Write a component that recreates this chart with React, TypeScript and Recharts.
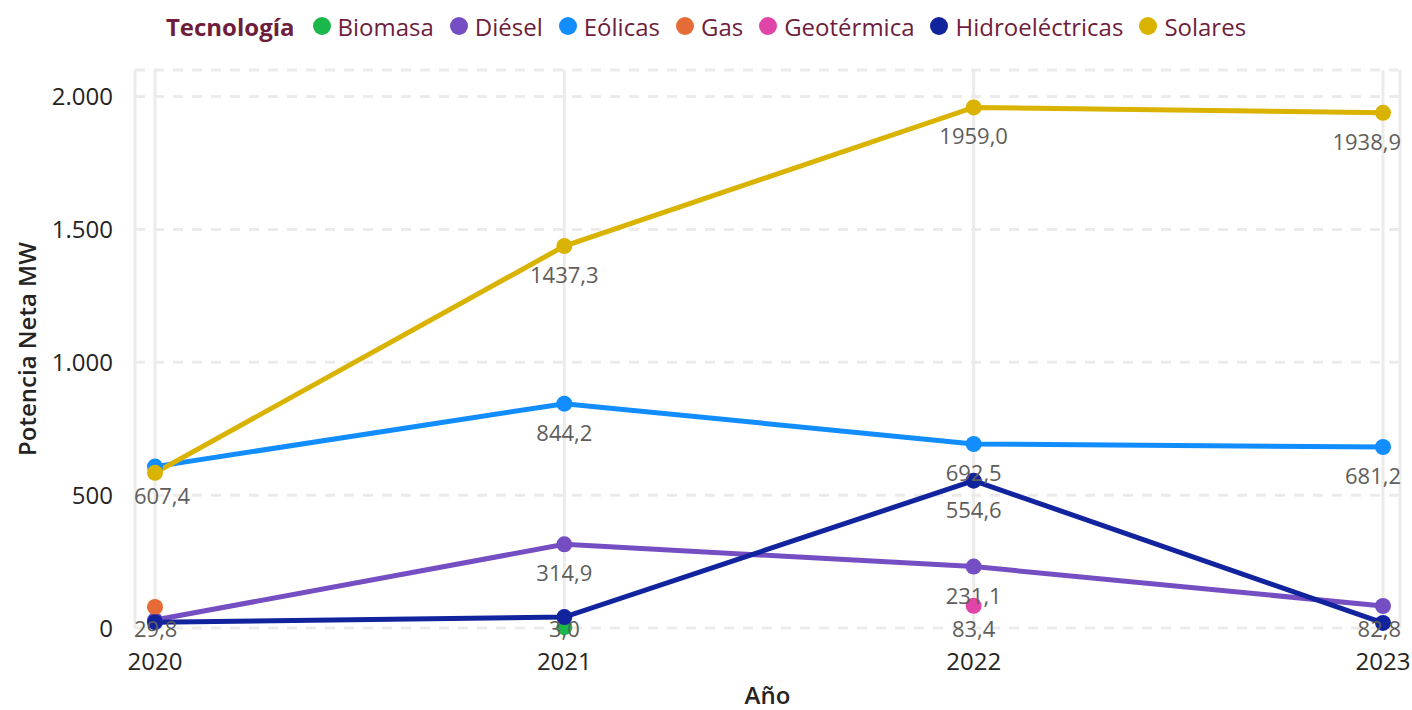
import { LineChart, Line, XAxis, YAxis, CartesianGrid, Legend, Label, LabelList } from 'recharts';

const years = ['2020', '2021', '2022', '2023'];
const biomasa = [null, 3.0, null, null];
const diesel = [29.8, 314.9, 231.1, 82.8];
const eolicas = [607.4, 844.2, 692.5, 681.2];
const gas = [79, null, null, null];
const geotermica = [null, null, 83.4, null];
const hidro = [22, 41, 554.6, 19];
const solares = [584, 1437.3, 1959.0, 1938.9];
const yTicks = [0, 500, 1000, 1500, 2000];

// which data labels Power BI kept visible (the rest overlap)
const showBiomasa = [false, true, false, false];
const showDiesel = [true, true, true, true];
const showEolicas = [true, true, true, true];
const showGas = [false, false, false, false];
const showGeotermica = [false, false, true, false];
const showHidro = [false, false, true, false];
const showSolares = [false, true, true, true];

const series = [
  { key: 'Biomasa', values: biomasa, show: showBiomasa, color: '#1AB84A' },
  { key: 'Diésel', values: diesel, show: showDiesel, color: '#744EC2' },
  { key: 'Eólicas', values: eolicas, show: showEolicas, color: '#118DFF' },
  { key: 'Gas', values: gas, show: showGas, color: '#E66C37' },
  { key: 'Geotérmica', values: geotermica, show: showGeotermica, color: '#E044A7' },
  { key: 'Hidroeléctricas', values: hidro, show: showHidro, color: '#12239E' },
  { key: 'Solares', values: solares, show: showSolares, color: '#D9B300' },
];

const data = years.map((year, i) => {
  const row: Record<string, any> = { year };
  series.forEach((s) => { row[s.key] = s.values[i]; });
  return row;
});

const W = 1412;
const H = 710;
const legendH = 52;
// recharts adds the legend height on top of margin.top
const margin = { top: 70 - legendH, right: 12, bottom: 0, left: 0 };
const xAxisHeight = 82;
const plotBottom = H - xAxisHeight;
const FONT = '"Open Sans", "Noto Sans", sans-serif';

const fmtTick = (v: number) => (v >= 1000 ? `${Math.floor(v / 1000)}.${String(v % 1000).padStart(3, '0')}` : String(v));
const fmtVal = (v: number) => v.toFixed(1).replace('.', ',');

function makeLabel(show: boolean[]) {
  return (props: any) => {
    const { value, index } = props;
    if (value == null || !show[index]) return null;
    const vb = props.viewBox || {};
    const x = props.x ?? vb.x;
    const y = props.y ?? vb.y;
    const cy = Math.min(y + 28, plotBottom);
    let anchor: 'start' | 'middle' | 'end' = 'middle';
    let tx = x;
    if (index === 0) { anchor = 'start'; tx = x - 21; }
    if (index === years.length - 1) { anchor = 'end'; tx = x + 18; }
    return (
      <text x={tx} y={cy} textAnchor={anchor} dominantBaseline="central" fill="#605E5C" fontSize={22} fontFamily={FONT}>
        {fmtVal(value)}
      </text>
    );
  };
}

function LegendContent() {
  return (
    <div style={{ display: 'flex', justifyContent: 'center', alignItems: 'center', fontFamily: FONT, fontSize: 24, color: '#6E1E3C', height: legendH }}>
      <span style={{ fontWeight: 700, marginRight: 2 }}>Tecnología</span>
      {series.map((s) => (
        <span key={s.key} style={{ display: 'flex', alignItems: 'center', marginLeft: 16 }}>
          <span style={{ width: 18, height: 18, borderRadius: 9, background: s.color, marginRight: 7 }} />
          {s.key}
        </span>
      ))}
    </div>
  );
}

export default function App() {
  return (
    <div style={{ position: 'absolute', left: 0, top: 0, background: '#fff' }}>
      <LineChart width={W} height={H} data={data} margin={margin}>
        <CartesianGrid horizontal={false} stroke="#EDEBE9" strokeWidth={3} />
        <CartesianGrid vertical={false} stroke="#EDEBE9" strokeWidth={3} strokeDasharray="10 9" />
        <XAxis
          dataKey="year"
          height={xAxisHeight}
          padding={{ left: 20, right: 17 }}
          axisLine={false}
          tickLine={false}
          tickSize={0}
          tickMargin={25}
          tick={{ fill: '#252423', fontSize: 24, fontFamily: FONT }}
        >
          <Label value="Año" position="insideBottom" offset={6} fill="#252423" fontSize={24} fontWeight={600} fontFamily={FONT} />
        </XAxis>
        <YAxis
          width={135}
          domain={[0, 2100]}
          ticks={yTicks}
          tickFormatter={fmtTick}
          axisLine={false}
          tickLine={false}
          tickSize={0}
          tickMargin={22}
          tick={{ fill: '#252423', fontSize: 24, fontFamily: FONT }}
        >
          <Label
            content={(p: any) => {
              const vb = p.viewBox;
              const x = vb.x + 26;
              const y = vb.y + vb.height / 2;
              return (
                <text x={x} y={y} transform={`rotate(-90 ${x} ${y})`} textAnchor="middle" dominantBaseline="central" fill="#252423" fontSize={24} fontWeight={600} fontFamily={FONT}>
                  Potencia Neta MW
                </text>
              );
            }}
          />
        </YAxis>
        <Legend verticalAlign="top" height={legendH} content={<LegendContent />} wrapperStyle={{ top: 0, left: 0, width: W }} />
        {series.map((s) => (
          <Line
            key={s.key}
            dataKey={s.key}
            stroke={s.color}
            strokeWidth={5}
            dot={{ r: 8, fill: s.color, stroke: s.color, strokeWidth: 0 }}
            activeDot={false}
            isAnimationActive={false}
          >
            <LabelList dataKey={s.key} content={makeLabel(s.show)} />
          </Line>
        ))}
      </LineChart>
    </div>
  );
}
